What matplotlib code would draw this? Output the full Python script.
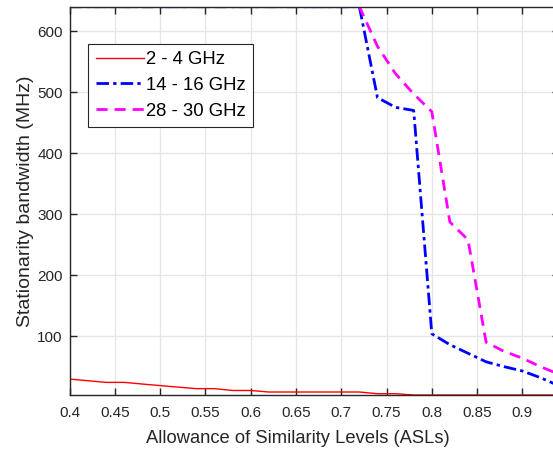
import matplotlib
matplotlib.use("Agg")
import matplotlib.pyplot as plt
import numpy as np

matplotlib.rcParams.update({'font.family': 'Liberation Sans'})

# allowance of similarity levels (x) and stationarity bandwidth in MHz
asl = np.round(np.arange(0.40, 0.9401, 0.02), 2)

bw_2_4 = [29.7, 27.0, 24.3, 24.3, 21.6, 19.0, 16.5, 14.0, 14.0, 11.0,
          11.0, 8.5, 8.5, 8.5, 8.5, 8.5, 8.5, 5.7, 5.7, 3.6,
          3.6, 3.6, 3.6, 3.6, 3.6, 3.6, 3.6, 3.6]
bw_14_16 = [640, 640, 640, 640, 640, 640, 640, 640, 640, 640,
            640, 640, 640, 640, 640, 640, 640, 491, 475, 470,
            104, 86, 72, 58, 50, 43, 32, 19]
bw_28_30 = [640, 640, 640, 640, 640, 640, 640, 640, 640, 640,
            640, 640, 640, 640, 640, 640, 640, 575, 530, 497,
            468, 287, 258, 90, 75, 64, 50, 38]

labels = ['2 - 4 GHz', '14 - 16 GHz', '28 - 30 GHz']

fig = plt.figure(figsize=(5.53, 4.53), dpi=100)
ax = fig.add_axes([69.7 / 553, 1 - 395 / 453, (553 - 69.7) / 553 + 0.01, (395 - 6.7) / 453])

ax.plot(asl, bw_2_4, color='#ff0000', lw=1.0, label=labels[0])
ax.plot(asl, bw_14_16, color='#0000ff', lw=2.0, ls=(0, (4.5, 1.5, 1.2, 1.5)), label=labels[1])
ax.plot(asl, bw_28_30, color='#ff00ff', lw=2.0, ls=(0, (4, 2.5)), label=labels[2])

ax.set_xlim(0.4, 0.94)
ax.set_ylim(3.6, 640)
ax.set_xticks(np.arange(0.4, 0.91, 0.05))
ax.set_xticklabels(['0.4', '0.45', '0.5', '0.55', '0.6', '0.65', '0.7', '0.75', '0.8', '0.85', '0.9'])
ax.set_yticks([100, 200, 300, 400, 500, 600])

ax.grid(True, color='#e6e6e6', lw=1.0)
ax.set_axisbelow(True)
ax.tick_params(direction='in', length=5, width=1, colors='#262626', labelsize=11,
               top=True, right=True)
ax.tick_params(axis='x', pad=8)
ax.tick_params(axis='y', pad=5)
for s in ax.spines.values():
    s.set_color('#262626')
    s.set_linewidth(1.0)

ax.set_xlabel('Allowance of Similarity Levels (ASLs)', fontsize=13.2, color='#262626')
ax.set_ylabel('Stationarity bandwidth (MHz)', fontsize=14.0, color='#262626')
ax.xaxis.set_label_coords(0.467, -0.09)
ax.yaxis.set_label_coords(-0.074, 0.5)

leg = ax.legend(loc='upper left', bbox_to_anchor=(0.038, 0.905), fontsize=13.3,
                fancybox=False, framealpha=1, edgecolor='#262626',
                handlelength=2.6, handletextpad=0.1, borderpad=0.4,
                labelspacing=0.48, borderaxespad=0)
leg.get_frame().set_linewidth(0.8)

fig.savefig('out.png', dpi=100)
